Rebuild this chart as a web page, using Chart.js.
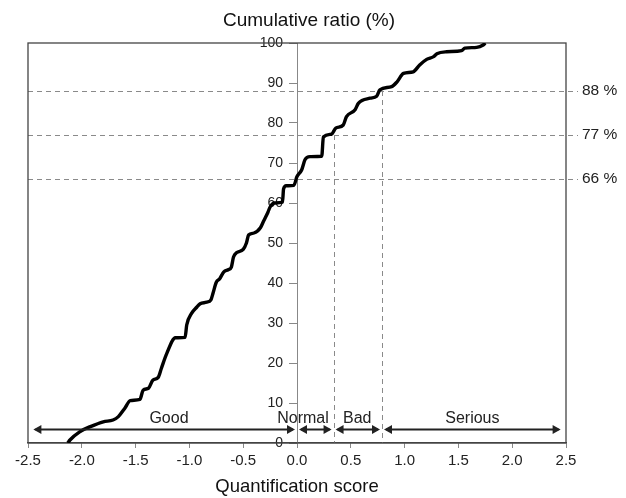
<!DOCTYPE html>
<html><head><meta charset="utf-8">
<script src="https://cdn.jsdelivr.net/npm/chart.js@4/dist/chart.umd.min.js"></script>
<style>html,body{margin:0;padding:0;background:#fff}#wrap{width:626px;height:498px}</style>
</head><body><div id="wrap"><canvas id="c" width="626" height="498"></canvas></div>
<script>
// Cumulative curve (quantification score vs cumulative ratio %)
const scoreX = [-2.13,-2.11,-2.02,-1.92,-1.80,-1.71,-1.66,-1.60,-1.55,-1.46,-1.43,-1.38,-1.34,-1.29,-1.26,-1.21,-1.13,-1.04,-1.025,-0.98,-0.93,-0.90,-0.84,-0.80,-0.78,-0.75,-0.72,-0.68,-0.64,-0.61,-0.59,-0.56,-0.50,-0.47,-0.45,-0.40,-0.34,-0.31,-0.27,-0.25,-0.21,-0.135,-0.125,-0.10,-0.03,0.0,0.044,0.074,0.12,0.23,0.245,0.32,0.36,0.43,0.46,0.54,0.57,0.68,0.74,0.77,0.88,0.93,0.99,1.08,1.14,1.205,1.27,1.30,1.39,1.53,1.56,1.67,1.73,1.75];
const cumRatio = [0,0.75,2.8,4.1,5.3,5.75,6.6,8.7,10.6,10.9,13.2,13.7,15.7,16.4,18.7,22.4,26.3,26.4,29.5,32.4,34.0,34.8,35.2,35.8,37.5,40.2,41.0,42.8,43.3,44.0,46.5,47.6,48.4,50.0,52.0,52.5,53.8,55.5,57.7,59.0,60.0,60.2,63.5,64.3,64.4,66.6,68.3,70.8,71.6,71.7,76.5,77.2,78.7,79.5,81.6,83.3,84.9,86.2,86.7,88.3,89.1,90.3,92.4,92.8,94.5,95.9,96.6,97.3,97.8,98.1,98.7,98.9,99.5,100];
const xTickStep = 0.5;
const yTickStep = 10;
// reference levels and grade boundaries
const refLevels = [66, 77, 88];
const refLabels = ['66 %', '77 %', '88 %'];
const boundaryX = [0.34, 0.79];        // vertical dashed lines
const boundaryLevel = [77, 88];        // each vertical line runs from this level to 0
const gradeNames = ['Good', 'Normal', 'Bad', 'Serious'];
const gradeFrom = [-2.45, 0.0, 0.34, 0.79];
const gradeTo = [0.0, 0.34, 0.79, 2.45];
const gradeLabelX = [-1.19, 0.056, 0.56, 1.63];
const arrowLevel = 3.4;
const gradeLabelLevel = 6.2;

const FONT = '"Liberation Sans",Arial,sans-serif';

const overlay = {
  id: 'overlay',
  beforeDatasetsDraw(chart) {
    const {ctx, chartArea: a, scales: {x, y}} = chart;
    ctx.save();
    ctx.strokeStyle = '#8a8a8a';
    ctx.lineWidth = 1;
    ctx.setLineDash([5, 4]);
    refLevels.forEach(v => {
      const py = Math.round(y.getPixelForValue(v)) + 0.5;
      ctx.beginPath(); ctx.moveTo(a.left, py); ctx.lineTo(a.right + 12, py); ctx.stroke();
    });
    boundaryX.forEach((bx, i) => {
      const px = Math.round(x.getPixelForValue(bx)) + 0.5;
      ctx.beginPath(); ctx.moveTo(px, y.getPixelForValue(boundaryLevel[i])); ctx.lineTo(px, a.bottom); ctx.stroke();
    });
    ctx.setLineDash([]);
    // plot frame
    ctx.strokeStyle = '#444';
    ctx.lineWidth = 1.3;
    ctx.strokeRect(a.left, a.top, a.right - a.left, a.bottom - a.top);
    ctx.restore();
  },
  afterDraw(chart) {
    const {ctx, chartArea: a, scales: {x, y}} = chart;
    ctx.save();
    // right labels
    ctx.fillStyle = '#222';
    ctx.font = '15.5px ' + FONT;
    ctx.textAlign = 'left'; ctx.textBaseline = 'middle';
    refLevels.forEach((v, i) => ctx.fillText(refLabels[i], a.right + 16, y.getPixelForValue(v)));
    // arrows
    const ay = Math.round(y.getPixelForValue(arrowLevel)) + 0.5;
    const gap = 2, hl = 8, hw = 4.5;
    ctx.strokeStyle = '#222'; ctx.lineWidth = 2;
    gradeFrom.forEach((f, i) => {
      const x1 = x.getPixelForValue(f) + (i ? gap : 0);
      const x2 = x.getPixelForValue(gradeTo[i]) - (i < 3 ? gap : 0);
      ctx.beginPath(); ctx.moveTo(x1 + 2, ay); ctx.lineTo(x2 - 2, ay); ctx.stroke();
      ctx.beginPath(); ctx.moveTo(x1, ay); ctx.lineTo(x1 + hl, ay - hw); ctx.lineTo(x1 + hl, ay + hw); ctx.closePath(); ctx.fill();
      ctx.beginPath(); ctx.moveTo(x2, ay); ctx.lineTo(x2 - hl, ay - hw); ctx.lineTo(x2 - hl, ay + hw); ctx.closePath(); ctx.fill();
    });
    ctx.font = '16px ' + FONT;
    ctx.textAlign = 'center'; ctx.textBaseline = 'middle';
    gradeNames.forEach((n, i) => ctx.fillText(n, x.getPixelForValue(gradeLabelX[i]), y.getPixelForValue(gradeLabelLevel)));
    // top axis title
    ctx.font = '19px ' + FONT;
    ctx.fillStyle = '#111';
    ctx.fillText('Cumulative ratio (%)', x.getPixelForValue(0) + 12, 21);
    ctx.restore();
  }
};

new Chart(document.getElementById('c'), {
  type: 'line',
  data: {
    datasets: [{
      data: scoreX.map((v, i) => ({x: v, y: cumRatio[i]})),
      borderColor: '#000', borderWidth: 3.4, pointRadius: 0,
      cubicInterpolationMode: 'monotone', fill: false
    }]
  },
  options: {
    responsive: false, animation: false,
    layout: {padding: {left: 28, right: 60, top: 43, bottom: 0}},
    plugins: {legend: {display: false}, tooltip: {enabled: false}},
    scales: {
      x: {
        type: 'linear', min: -2.5, max: 2.5,
        border: {color: '#444', width: 1.3},
        grid: {drawOnChartArea: false, drawTicks: true, tickLength: 5, color: '#888'},
        ticks: {stepSize: xTickStep, color: '#222', padding: 4, font: {size: 15, family: FONT},
          callback: v => Number(v).toFixed(1), maxRotation: 0, autoSkip: false},
        title: {display: true, text: 'Quantification score', color: '#111', padding: {top: 2, bottom: 0}, font: {size: 18.5, family: FONT}},
        afterFit(s) { s.height = 55; }
      },
      y: {
        type: 'linear', min: 0, max: 100, position: {x: 0},
        border: {color: '#888', width: 1},
        grid: {drawOnChartArea: false, drawTicks: true, tickLength: 8, color: '#888'},
        ticks: {stepSize: yTickStep, color: '#222', font: {size: 14, family: FONT},
          callback: v => v + '\u2002\u2002'}
      }
    }
  },
  plugins: [overlay]
});
</script></body></html>
